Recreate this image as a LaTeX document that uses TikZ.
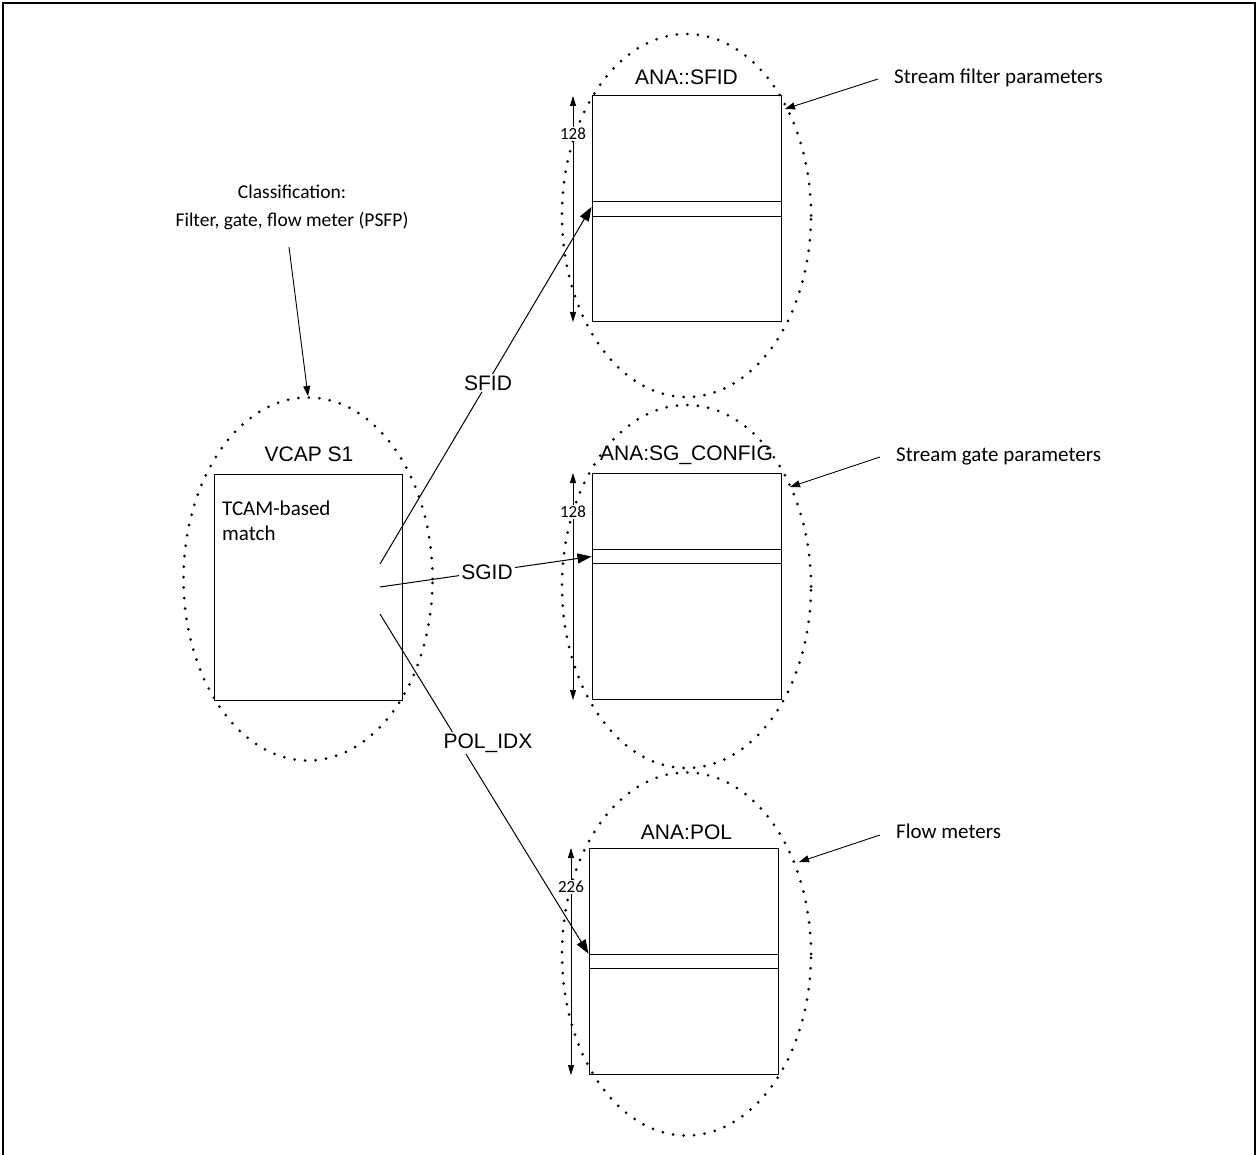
\documentclass[tikz,border=0pt]{standalone}
\usepackage{fontspec}
\setmainfont{Liberation Sans}
\newfontfamily\calib{Carlito}
\usetikzlibrary{shapes.geometric,arrows.meta}
\begin{document}
\begin{tikzpicture}[x=1pt,y=-1pt,
  ell/.style={ellipse, draw, line width=3pt, dash pattern=on 0pt off 10.5pt, line cap=round, minimum width=249pt, minimum height=363pt, inner sep=0pt},
  tbl/.style={draw, line width=1pt, minimum width=189pt, minimum height=226pt, inner sep=0pt},
  stripbox/.style={draw, line width=1pt, minimum width=189pt, minimum height=14.5pt, inner sep=0pt},
  ttl/.style={font=\fontsize{21}{25}\selectfont, inner sep=0pt},
  note/.style={font=\calib\fontsize{21}{25}\selectfont, anchor=west, inner sep=0pt},
  conn/.style={line width=1pt, -{Triangle[length=14pt,width=10pt]}},
  ptr/.style={line width=0.9pt, -{Triangle[length=10pt,width=7pt]}},
  dimarrow/.style={line width=0.9pt, {Triangle[length=10pt,width=6pt]}-{Triangle[length=10pt,width=6pt]}},
  dimlbl/.style={fill=white, inner sep=1pt, font=\calib\fontsize{17}{20}\selectfont},
  idlbl/.style={fill=white, inner sep=2pt, font=\fontsize{21}{25}\selectfont}
]
\useasboundingbox (0,0) rectangle (1258,1155);
\fill[white] (0,0) rectangle (1258,1155);
% frame
\draw[line width=2pt] (3,1155) -- (3,3) -- (1255,3) -- (1255,1155);

% ellipses
\node[ell] (e1) at (686.5,215.5) {};
\node[ell] (e2) at (686.5,586.5) {};
\node[ell] (e3) at (686.5,954) {};
\node[ell] (e0) at (308,579) {};

% tables
\node[tbl] (t1) at (686.5,209) {};
\node[stripbox] (s1) at (686.5,209) {};
\node[tbl] (t2) at (686.5,586.5) {};
\node[stripbox] (s2) at (686.5,556.5) {};
\node[tbl] (t3) at (683.5,961.5) {};
\node[stripbox] (s3) at (683.5,961.5) {};
\node[tbl, minimum width=188pt] (t0) at (308,587) {};

% titles
\node[ttl] (n1) at (686.5,77) {ANA::SFID};
\node[ttl] (n2) at (686.5,455) {ANA:SG\_CONFIG};
\node[ttl] (n3) at (686.5,832) {ANA:POL};
\node[ttl] (n0) at (309,454) {VCAP S1};
\node[font=\calib\fontsize{21}{25}\selectfont, align=left, anchor=north west, inner sep=0pt] (tc) at (222,501) {TCAM-based\\match};

% dimension arrows
\coordinate (d1a) at (573,96);  \coordinate (d1b) at (573,322);
\coordinate (d2a) at (573,473); \coordinate (d2b) at (573,700);
\coordinate (d3a) at (571,848); \coordinate (d3b) at (571,1075);
\draw[dimarrow] (d1a) -- (d1b);
\draw[dimarrow] (d2a) -- (d2b);
\draw[dimarrow] (d3a) -- (d3b);
\node[dimlbl] (l1) at (573,134) {128};
\node[dimlbl] (l2) at (573,512) {128};
\node[dimlbl] (l3) at (571,887) {226};

% notes
\node[note] (a1) at (894,78) {Stream filter parameters};
\node[note] (a2) at (896,456) {Stream gate parameters};
\node[note] (a3) at (896,831) {Flow meters};
\coordinate (p1) at (878,79);  \coordinate (q1) at (785,109);
\coordinate (p2) at (880,457); \coordinate (q2) at (790,487);
\coordinate (p3) at (880,835); \coordinate (q3) at (799,862);
\draw[ptr] (p1) -- (q1);
\draw[ptr] (p2) -- (q2);
\draw[ptr] (p3) -- (q3);

\node[font=\calib\fontsize{19.5}{28}\selectfont, align=center, inner sep=0pt] (cls) at (292,207) {Classification:\\Filter, gate, flow meter (PSFP)};
\coordinate (cs) at (289,247);
\draw[ptr] (cs) -- (e0.north);

% connectors
\coordinate (c1) at (380,564);
\coordinate (c2) at (380,587);
\coordinate (c3) at (380,614);
\draw[conn] (c1) -- ([yshift=2pt]s1.west);
\draw[conn] (c2) -- (s2.west);
\draw[conn] (c3) -- (s3.north west);
\node[idlbl] (i1) at (488,383) {SFID};
\node[idlbl] (i2) at (487,572) {SGID};
\node[idlbl] (i3) at (488,743) {POL\_IDX};
\end{tikzpicture}
\end{document}
